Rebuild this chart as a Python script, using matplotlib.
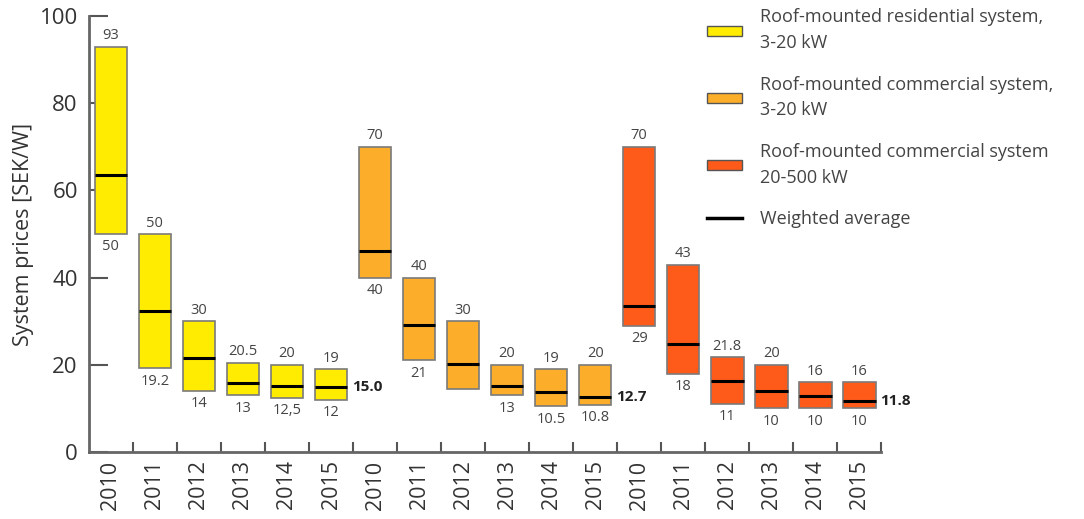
import matplotlib.pyplot as plt
from matplotlib.patches import Patch
from matplotlib.lines import Line2D

plt.rcParams['font.family'] = ['Open Sans', 'DejaVu Sans']

years = ["2010", "2011", "2012", "2013", "2014", "2015"]

res_low = [50, 19.2, 14, 13, 12.5, 12]
res_high = [93, 50, 30, 20.5, 20, 19]
res_avg = [63.5, 32.3, 21.6, 15.9, 15.1, 15.0]
res_low_lbl = ["50", "19.2", "14", "13", "12,5", "12"]
res_high_lbl = ["93", "50", "30", "20.5", "20", "19"]

com_low = [40, 21, 14.4, 13, 10.5, 10.8]
com_high = [70, 40, 30, 20, 19, 20]
com_avg = [46.2, 29.1, 20.3, 15.1, 13.7, 12.7]
com_low_lbl = ["40", "21", "", "13", "10.5", "10.8"]
com_high_lbl = ["70", "40", "30", "20", "19", "20"]

big_low = [29, 18, 11, 10, 10, 10]
big_high = [70, 43, 21.8, 20, 16, 16]
big_avg = [33.6, 24.7, 16.3, 14.0, 12.8, 11.8]
big_low_lbl = ["29", "18", "11", "10", "10", "10"]
big_high_lbl = ["70", "43", "21.8", "20", "16", "16"]

last_avg_lbl = ["15.0", "12.7", "11.8"]

series = [
    ("Roof-mounted residential system,\n3-20 kW", "#ffec00", res_low, res_high, res_avg, res_low_lbl, res_high_lbl),
    ("Roof-mounted commercial system,\n3-20 kW", "#fcae2a", com_low, com_high, com_avg, com_low_lbl, com_high_lbl),
    ("Roof-mounted commercial system\n20-500 kW", "#fe5a19", big_low, big_high, big_avg, big_low_lbl, big_high_lbl),
]

txt = "#444444"
fig = plt.figure(figsize=(10.84, 5.19), dpi=100)
ax = fig.add_axes([0.082, 0.129, 0.731, 0.84])

w = 0.74
handles = []
for s, (name, color, lo, hi, avg, lo_lbl, hi_lbl) in enumerate(series):
    xs = [s * len(years) + i for i in range(len(years))]
    heights = [h - l for h, l in zip(hi, lo)]
    ax.bar(xs, heights, bottom=lo, width=w, color=color, edgecolor="#7a7a7a", linewidth=1.2, zorder=2)
    ax.hlines(avg, [x - w / 2 for x in xs], [x + w / 2 for x in xs], color="black", linewidth=2.2, zorder=3)
    for x, l, h, ll, hl in zip(xs, lo, hi, lo_lbl, hi_lbl):
        ax.text(x, h + 0.8, hl, ha="center", va="bottom", fontsize=10.5, color=txt)
        if ll:
            ax.text(x, l - 1.2, ll, ha="center", va="top", fontsize=10.5, color=txt)
    ax.text(xs[-1] + w / 2 + 0.1, avg[-1], last_avg_lbl[s], ha="left", va="center",
            fontsize=11, fontweight="bold", color="#222222")
    handles.append(Patch(facecolor=color, edgecolor="#555555", linewidth=1, label=name))
handles.append(Line2D([], [], color="black", linewidth=2.5, label="Weighted average"))

n = len(years) * len(series)
ax.set_xlim(-0.5, n - 0.5)
ax.set_ylim(0, 100)
ax.set_yticks([0, 20, 40, 60, 80, 100])
ax.set_xticks(range(n))
ax.set_xticklabels(years * len(series), rotation=90, fontsize=15.5, color="#333333")
ax.set_xticks([i + 0.5 for i in range(n)], minor=True)
ax.tick_params(axis="x", which="major", length=0, pad=6)
ax.tick_params(axis="x", which="minor", direction="in", length=7, width=1.5, color="#555555")
ax.tick_params(axis="y", direction="in", length=14, width=1.5, color="#555555",
               labelsize=16, labelcolor="#333333", pad=8)
for side in ("top", "right"):
    ax.spines[side].set_visible(False)
for side in ("left", "bottom"):
    ax.spines[side].set_color("#666666")
    ax.spines[side].set_linewidth(2)
ax.set_ylabel("System prices [SEK/W]", fontsize=15.5, color="#333333", labelpad=4)

leg = fig.legend(handles=handles, loc="upper left", bbox_to_anchor=(0.6375, 1.015), frameon=False,
                 fontsize=13, labelcolor=txt, handlelength=1.9, handleheight=0.5,
                 labelspacing=1.3, handletextpad=1.0)
for t in leg.get_texts():
    t.set_linespacing(1.55)

fig.savefig("out.png", dpi=100)
